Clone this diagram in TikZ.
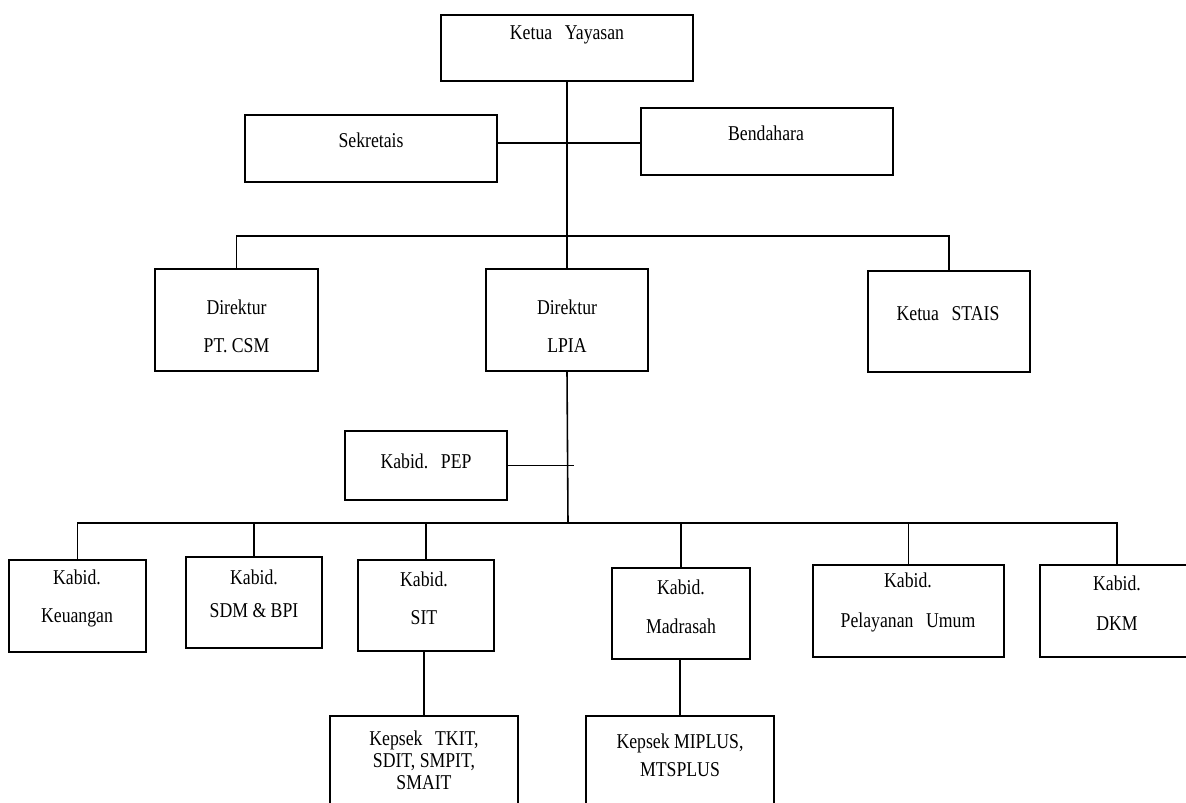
\documentclass[tikz,border=0pt]{standalone}
\usepackage{fontspec}
\setmainfont{Liberation Serif}[FakeStretch=0.84]
\usepackage{tikz}

\tikzset{
	unit/.style={draw, line width=0.9pt, inner sep=0pt},
	lbl/.style={align=center, inner sep=0pt, font=\fontsize{12}{12.5}\selectfont},
	link/.style={line width=0.9pt}
}

\begin{document}
\begin{tikzpicture}[x=0.02cm, y=-0.02cm]
		\useasboundingbox (0,0) rectangle (1186,803);
		\clip (0,0) rectangle (1186,803);
		% boxes
		\node[unit, minimum width=5.04cm, minimum height=1.32cm] (yayasan) at (567,48) {};
		\node[unit, minimum width=5.04cm, minimum height=1.34cm] (sekretaris) at (371,148.5) {};
		\node[unit, minimum width=5.04cm, minimum height=1.34cm] (bendahara) at (767,141.5) {};
		\node[unit, minimum width=3.26cm, minimum height=2.04cm] (csm) at (236.5,320) {};
		\node[unit, minimum width=3.24cm, minimum height=2.04cm] (lpia) at (567,320) {};
		\node[unit, minimum width=3.24cm, minimum height=2.02cm] (stais) at (949,321.5) {};
		\node[unit, minimum width=3.24cm, minimum height=1.38cm] (pep) at (426,465.5) {};
		\node[unit, minimum width=2.74cm, minimum height=1.84cm] (keuangan) at (77.5,606) {};
		\node[unit, minimum width=2.72cm, minimum height=1.82cm] (sdm) at (254,602.5) {};
		\node[unit, minimum width=2.72cm, minimum height=1.82cm] (sit) at (426,605.5) {};
		\node[unit, minimum width=2.76cm, minimum height=1.82cm] (madrasah) at (681,613.5) {};
		\node[unit, minimum width=3.82cm, minimum height=1.84cm] (pelayanan) at (908.5,611) {};
		\node[unit, minimum width=3.08cm, minimum height=1.84cm] (dkm) at (1117,611) {};
		\node[unit, minimum width=3.76cm, minimum height=2.28cm] (kepsekit) at (424,773) {};
		\node[unit, minimum width=3.76cm, minimum height=2.28cm] (kepsekmi) at (680,773) {};
		% texts
		\node[lbl] (tyayasan) at (567,35) {Ketua\hspace{0.6em}Yayasan};
		\node[lbl] (tsekretaris) at (371,140) {Sekretais};
		\node[lbl] (tbendahara) at (766,133) {Bendahara};
		\node[lbl] (tcsm) at (236.5,326.5) {Direktur\\[9pt]PT. CSM};
		\node[lbl] (tlpia) at (567,326.5) {Direktur\\[9pt]LPIA};
		\node[lbl] (tstais) at (948,314) {Ketua\hspace{0.6em}STAIS};
		\node[lbl] (tpep) at (426,461) {Kabid.\hspace{0.6em}PEP};
		\node[lbl] (tkeuangan) at (77,598.5) {Kabid.\\[9pt]Keuangan};
		\node[lbl] (tsdm) at (254,593.5) {Kabid.\\[6.2pt]SDM \& BPI};
		\node[lbl] (tsit) at (424,598.5) {Kabid.\\[9pt]SIT};
		\node[lbl] (tmadrasah) at (681,606.5) {Kabid.\\[9.5pt]Madrasah};
		\node[lbl] (tpelayanan) at (908,602.5) {Kabid.\\[10pt]Pelayanan\hspace{0.6em}Umum};
		\node[lbl] (tdkm) at (1117,603) {Kabid.\\[10pt]DKM};
		\node[lbl] (tkepsekit) at (424,760) {Kepsek\hspace{0.6em}TKIT,\\SDIT, SMPIT,\\SMAIT};
		\node[lbl] (tkepsekmi) at (680,755) {Kepsek MIPLUS,\\[3.4pt]MTSPLUS};
		% connectors
		\coordinate (sb) at (567,143);
		\coordinate (bar1) at (567,236);
		\coordinate (bar2) at (568,523);
		\draw[link] (yayasan.south) -- (lpia.north);
		\draw[link] (sekretaris.east |- sb) -- (bendahara.west |- sb);
		\draw[link] (csm.north) |- (bar1) -| (stais.north);
		\draw[link] (lpia.south) -- (bar2);
		\draw[link] (pep.east) -- ([xshift=4]pep.east -| lpia.south);
		\draw[link] (keuangan.north) |- (bar2) -| (dkm.north);
		\draw[link] (sdm.north) -- (sdm.north |- bar2);
		\draw[link] (sit.north) -- (sit.north |- bar2);
		\draw[link] (madrasah.north) -- (madrasah.north |- bar2);
		\draw[link] (pelayanan.north) -- (pelayanan.north |- bar2);
		\draw[link] (kepsekit.north |- sit.south) -- (kepsekit.north);
		\draw[link] (kepsekmi.north |- madrasah.south) -- (kepsekmi.north);
    \end{tikzpicture}
\end{document}
